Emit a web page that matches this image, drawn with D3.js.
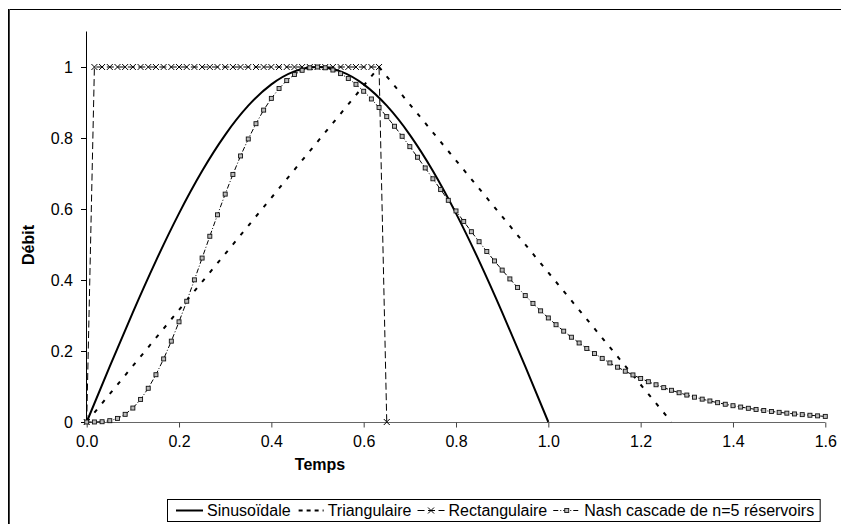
<!DOCTYPE html>
<html><head><meta charset="utf-8">
<script src="https://cdn.jsdelivr.net/npm/d3@7"></script>
<style>body{margin:0;background:#fff} svg{display:block} text{font-family:"Liberation Sans",Arial,sans-serif;fill:#000}</style>
</head><body><svg id="c" width="841" height="524"></svg>
<script>
// ---------- data ----------
const timeGrid = [0,0.0167,0.0333,0.05,0.0667,0.0833,0.1,0.1167,0.1333,0.15,0.1667,0.1833,0.2,0.2167,0.2333,0.25,0.2667,0.2833,0.3,0.3167,0.3333,0.35,0.3667,0.3833,0.4,0.4167,0.4333,0.45,0.4667,0.4833,0.5,0.5167,0.5333,0.55,0.5667,0.5833,0.6,0.6167,0.6333,0.65,0.6667,0.6833,0.7,0.7167,0.7333,0.75,0.7667,0.7833,0.8,0.8167,0.8333,0.85,0.8667,0.8833,0.9,0.9167,0.9333,0.95,0.9667,0.9833,1.0,1.0167,1.0333,1.05,1.0667,1.0833,1.1,1.1167,1.1333,1.15,1.1667,1.1833,1.2,1.2167,1.2333,1.25,1.2667,1.2833,1.3,1.3167,1.3333,1.35,1.3667,1.3833,1.4,1.4167,1.4333,1.45,1.4667,1.4833,1.5,1.5167,1.5333,1.55,1.5667,1.5833,1.6];
const sineT = [0,0.05,0.1,0.15,0.2,0.25,0.3,0.35,0.4,0.45,0.5,0.55,0.6,0.65,0.7,0.75,0.8,0.85,0.9,0.95,1.0];
const sineV = [0,0.1564,0.3090,0.4540,0.5878,0.7071,0.8090,0.8910,0.9511,0.9877,1.0,0.9877,0.9511,0.8910,0.8090,0.7071,0.5878,0.4540,0.3090,0.1564,0];
const triT = [0,0.6333,1.2667];
const triV = [0,1,0];
const rectT = [0,0.0167,0.0333,0.05,0.0667,0.0833,0.1,0.1167,0.1333,0.15,0.1667,0.1833,0.2,0.2167,0.2333,0.25,0.2667,0.2833,0.3,0.3167,0.3333,0.35,0.3667,0.3833,0.4,0.4167,0.4333,0.45,0.4667,0.4833,0.5,0.5167,0.5333,0.55,0.5667,0.5833,0.6,0.6167,0.6333,0.65];
const rectV = [0,1,1,1,1,1,1,1,1,1,1,1,1,1,1,1,1,1,1,1,1,1,1,1,1,1,1,1,1,1,1,1,1,1,1,1,1,1,1,0];
const nashT = timeGrid;
const nashV = [0,0.0001,0.0008,0.0037,0.0101,0.0216,0.0393,0.0636,0.0950,0.1332,
0.1777,0.2277,0.2822,0.3402,0.4004,0.4618,0.5232,0.5836,0.6419,0.6974,
0.7494,0.7972,0.8403,0.8786,0.9116,0.9393,0.9617,0.9788,0.9907,0.9977,
1.0,0.9978,0.9915,0.9814,0.9678,0.9512,0.9317,0.9099,0.8859,0.8602,
0.8331,0.8048,0.7756,0.7458,0.7156,0.6851,0.6547,0.6245,0.5945,0.5650,
0.5361,0.5079,0.4804,0.4537,0.4279,0.4030,0.3791,0.3561,0.3341,0.3131,
0.2931,0.2740,0.2559,0.2388,0.2226,0.2072,0.1928,0.1792,0.1664,0.1544,
0.1431,0.1326,0.1227,0.1135,0.1049,0.0968,0.0893,0.0824,0.0759,0.0699,
0.0644,0.0592,0.0544,0.0500,0.0459,0.0421,0.0386,0.0354,0.0324,0.0297,
0.0272,0.0249,0.0227,0.0208,0.0190,0.0173,0.0158];
const xTicks = [0,0.2,0.4,0.6,0.8,1.0,1.2,1.4,1.6];
const yTicks = [0,0.2,0.4,0.6,0.8,1];
const seriesNames = ["Sinusoïdale","Triangulaire","Rectangulaire","Nash cascade de n=5 réservoirs"];
const xTitle = "Temps";
const yTitle = "Débit";

// ---------- drawing ----------
const svg = d3.select("#c");
const FS = 16;
// outer frame
svg.append("rect").attr("x",8.5).attr("y",9.5).attr("width",900).attr("height",600)
  .attr("fill","none").attr("stroke","#000").attr("stroke-width",1);
svg.append("line").attr("x1",9.5).attr("x2",9.5).attr("y1",9).attr("y2",524).attr("stroke","#444");

const x = d3.scaleLinear().domain([0,1.6]).range([86.7,825.3]);
const y = d3.scaleLinear().domain([0,1.1]).range([422,31.5]);

// axes
const yAx = svg.append("g").attr("transform","translate(86,0)")
  .call(d3.axisLeft(y).tickValues(yTicks).tickSize(5).tickPadding(8)
    .tickFormat(d => (d===0||d===1) ? String(d) : d3.format(".1f")(d)));
yAx.select(".domain").attr("d","M0.5,"+y(1.1)+"V"+y(0)).attr("stroke","#000");
yAx.selectAll(".tick line").attr("stroke","#000");
const xAx = svg.append("g").attr("transform","translate(0,422.5)")
  .call(d3.axisBottom(x).tickValues(xTicks).tickSize(5).tickPadding(8).tickFormat(d3.format(".1f")));
xAx.select(".domain").attr("d","M86,0H"+x(1.6)).attr("stroke","#666");
xAx.selectAll(".tick line").attr("stroke","#444");
svg.selectAll(".tick text").attr("font-size",FS).attr("font-family","Liberation Sans, Arial, sans-serif");

// titles
svg.append("text").attr("x",320).attr("y",470).attr("text-anchor","middle")
  .attr("font-weight","bold").attr("font-size",FS).text(xTitle);
svg.append("text").attr("transform","translate(34,245) rotate(-90)").attr("text-anchor","middle")
  .attr("font-weight","bold").attr("font-size",FS).text(yTitle);

const line = d3.line().x(d=>x(d[0])).y(d=>y(d[1]));
const zip = (a,b)=>a.map((t,i)=>[t,b[i]]);

// sine
svg.append("path").datum(zip(sineT,sineV))
  .attr("d", d3.line().x(d=>x(d[0])).y(d=>y(d[1])).curve(d3.curveNatural))
  .attr("fill","none").attr("stroke","#000").attr("stroke-width",2);
// triangle
svg.append("path").datum(zip(triT,triV)).attr("d",line)
  .attr("fill","none").attr("stroke","#000").attr("stroke-width",2).attr("stroke-dasharray","4,8.1");
// rectangle
const rectData = zip(rectT,rectV);
svg.append("path").datum(rectData).attr("d",line)
  .attr("fill","none").attr("stroke","#000").attr("stroke-width",1).attr("stroke-dasharray","7,3.5");
const xMark = "M-3,-3L3,3M-3,3L3,-3";
svg.append("g").selectAll("path").data(rectData).join("path")
  .attr("transform",d=>`translate(${x(d[0])},${y(d[1])})`).attr("d",xMark)
  .attr("stroke","#000").attr("stroke-width",1).attr("fill","none");
// nash
const nashData = zip(nashT,nashV);
svg.append("path").datum(nashData).attr("d",line)
  .attr("fill","none").attr("stroke","#000").attr("stroke-width",1).attr("stroke-dasharray","5,2,1,2");
svg.append("g").selectAll("rect").data(nashData).join("rect")
  .attr("x",d=>x(d[0])-2).attr("y",d=>y(d[1])-2).attr("width",4).attr("height",4)
  .attr("fill","#bbb").attr("stroke","#111").attr("stroke-width",0.9);

// legend
const lg = svg.append("g");
const lgBox = lg.append("rect").attr("y",499.5).attr("height",22).attr("fill","#fff").attr("stroke","#000");
let cx = 176;
const sampleLen = 27;
seriesNames.forEach((name,i)=>{
  const yy = 510.5;
  const s = lg.append("line").attr("x1",cx).attr("x2",cx+sampleLen).attr("y1",yy).attr("y2",yy).attr("stroke","#000");
  if(i===0) s.attr("stroke-width",2);
  if(i===1) s.attr("stroke-width",2).attr("stroke-dasharray","4,4").attr("x1",cx+2);
  if(i===2){ s.attr("stroke-dasharray","7,3.5");
    lg.append("path").attr("transform",`translate(${cx+sampleLen/2},${yy})`).attr("d",xMark).attr("stroke","#000"); }
  if(i===3){ s.attr("stroke-dasharray","5,2,1,2");
    lg.append("rect").attr("x",cx+sampleLen/2-2).attr("y",yy-2).attr("width",4).attr("height",4)
      .attr("fill","#bbb").attr("stroke","#111").attr("stroke-width",0.9); }
  cx += sampleLen + 4;
  const t = lg.append("text").attr("x",cx).attr("y",yy+5.5).attr("font-size",FS).text(name);
  cx += t.node().getComputedTextLength() + 6;
});
lgBox.attr("x",167.5).attr("width",cx-167.5);
</script></body></html>
